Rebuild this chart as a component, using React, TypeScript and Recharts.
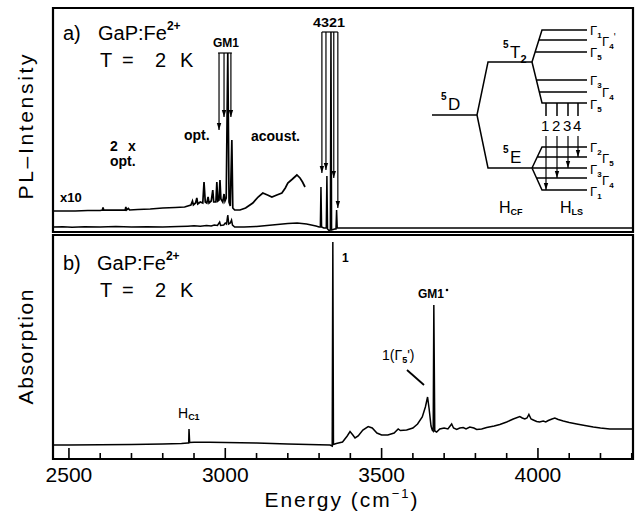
import React from 'react';
import { LineChart, Line, XAxis, YAxis, ReferenceArea, ReferenceLine, Customized } from 'recharts';

const FONT = "'Liberation Sans', Arial, Helvetica, sans-serif";

// ---- Data (energy in cm^-1, intensities in arbitrary units) ----
const plEnergy = [2449, 2480, 2510, 2550, 2600, 2650, 2700, 2750, 2800, 2850, 2880, 2900, 2920, 2940, 2955, 2965, 2975, 2982, 2985, 2995, 3000, 3004, 3008, 3011, 3016, 3020, 3023, 3030, 3060, 3100, 3150, 3200, 3230, 3260, 3290, 3300, 3304, 3306, 3308, 3315, 3323, 3325, 3327, 3332, 3336, 3338, 3340, 3350, 3354, 3356, 3358, 3370, 3450, 3600, 3800, 4000, 4200, 4304];
const plIntensity = [5, 5.2, 4.8, 5.3, 5, 5.4, 5, 5.3, 5, 5.4, 5.8, 6.2, 5.8, 6.5, 6, 7, 6.5, 10, 6.5, 7, 9, 8, 17, 8, 9, 12, 7, 5, 5, 5.5, 7, 8.5, 9, 8, 6, 5, 5, 45, 5, 4, 4, 56, 3, 1.5, 2, 200, 2, 3, 3, 22, 4, 4, 4, 4, 4, 4, 4, 4];

const plX10Energy = [2449, 2480, 2520, 2560, 2600, 2607, 2609, 2611, 2640, 2680, 2682, 2684, 2690, 2694, 2720, 2760, 2800, 2840, 2870, 2880, 2890, 2895, 2898, 2905, 2909, 2912, 2920, 2928, 2932, 2936, 2941, 2945, 2948, 2955, 2960, 2963, 2970, 2973, 2976, 2980, 2983, 2986, 2992, 2996, 2999, 3003, 3008, 3012, 3016, 3021, 3024, 3030, 3047, 3065, 3088, 3105, 3120, 3135, 3149, 3165, 3181, 3192, 3200, 3215, 3229, 3239, 3247, 3255];
const plX10Intensity = [21, 21, 21, 21.5, 21.5, 22, 24.5, 22, 21.8, 22, 25, 22, 23.5, 22, 22.5, 23, 24, 24.5, 25, 26, 27, 31, 27, 29, 34, 28, 30, 29, 50, 30, 29, 35, 29, 31, 42, 30, 30, 50, 31, 32, 52, 33, 30, 38, 31, 34, 179, 30, 26, 92, 24, 22, 22, 24, 29, 35, 39, 37, 35, 37, 39, 44, 49, 53, 57, 54, 50, 45];

const absEnergy = [2449, 2500, 2600, 2700, 2800, 2860, 2880, 2883, 2884, 2886, 2900, 2950, 3000, 3100, 3200, 3300, 3335, 3342, 3344, 3346, 3355, 3375, 3390, 3399, 3408, 3415, 3425, 3440, 3457, 3470, 3485, 3500, 3520, 3540, 3553, 3560, 3580, 3600, 3615, 3630, 3640, 3647, 3652, 3658, 3662, 3665, 3667, 3670, 3676, 3686, 3700, 3712, 3724, 3730, 3740, 3750, 3761, 3770, 3782, 3795, 3804, 3820, 3836, 3860, 3878, 3900, 3921, 3942, 3950, 3958, 3965, 3971, 3978, 3985, 3996, 4005, 4017, 4025, 4033, 4045, 4054, 4065, 4081, 4100, 4124, 4150, 4177, 4200, 4230, 4270, 4304];
const absValue = [14, 14, 14.2, 14.5, 15, 15.5, 16, 16, 30, 16.5, 16.8, 16.8, 16.5, 16, 15, 14.3, 14, 13, 217, 14.5, 15.5, 17, 23, 27.5, 24, 21, 23, 29, 32.5, 31, 26, 24, 24, 26, 30, 28.5, 29, 31, 35, 42, 52, 62, 50, 33, 29, 28, 154, 28, 27, 30, 31, 30, 35, 31, 29.5, 31, 31.5, 30, 32, 31, 29.5, 30, 31.5, 33, 34.5, 37, 40, 42.5, 41, 40, 41, 44.5, 40, 39, 37.5, 37, 38, 37, 38.5, 40, 41, 39.5, 38, 36.5, 35, 33.5, 32, 31, 30, 30, 30];

const xTicks = [2500, 2600, 2700, 2800, 2900, 3000, 3100, 3200, 3300, 3400, 3500, 3600, 3700, 3800, 3900, 4000, 4100, 4200, 4300];
const xMajor = [2500, 3000, 3500, 4000];

const X_DOMAIN = [2449, 4304];
const Y_DOMAIN = [0, 224];

const plData = plEnergy.map((e, i) => ({ e, v: plIntensity[i] }));
const plX10Data = plX10Energy.map((e, i) => ({ e, v: plX10Intensity[i] }));
const absData = absEnergy.map((e, i) => ({ e, v: absValue[i] }));

// annotation arrows (energy, intensity) in the PL panel
const gm1Arrows = [
  { e: 2980, from: 179, to: 102 },
  { e: 2996, from: 179, to: 115 },
  { e: 3018, from: 179, to: 115 },
];
const zplArrows = [
  { e: 3309, from: 200, to: 59 },
  { e: 3322, from: 200, to: 62 },
  { e: 3347, from: 200, to: 54 },
  { e: 3360, from: 200, to: 24 },
];

const Arrow = (p: any) => {
  const { x1, y1, x2, y2 } = p;
  const dx = x2 - x1, dy = y2 - y1;
  const L = Math.hypot(dx, dy) || 1;
  const ux = dx / L, uy = dy / L;
  const hl = 7, hw = 2.2;
  const bx = x2 - ux * hl, by = y2 - uy * hl;
  return (
    <g>
      <line x1={x1} y1={y1} x2={x2} y2={y2} stroke="#000" strokeWidth={1.2} />
      <path d={`M${x2},${y2}L${bx - uy * hw},${by + ux * hw}L${bx + uy * hw},${by - ux * hw}Z`} fill="#000" />
    </g>
  );
};

const BottomTick = (props: any) => {
  const { x, y, payload } = props;
  const v = payload.value;
  const major = xMajor.includes(v);
  return (
    <g>
      <line x1={x} x2={x} y1={y} y2={y - (major ? 11 : 6)} stroke="#000" strokeWidth={1.6} />
      {major && (
        <text x={x} y={y + 23} textAnchor="middle" fontSize={21} fontFamily={FONT} fill="#000">{v}</text>
      )}
    </g>
  );
};

const G = ({ x, y, sub, prime }: { x: number; y: number; sub: string; prime?: boolean }) => (
  <text x={x} y={y} fontSize={13} fontFamily={FONT} fill="#000">
    Γ<tspan fontSize={8} fontWeight="bold" dy={3}>{sub}</tspan>
    {prime && <tspan fontSize={10} dy={-8}>'</tspan>}
  </text>
);

const Overlay = () => (
  <g fontFamily={FONT} fill="#000">
    {/* axis titles */}
    <text x={33} y={127} transform="rotate(-90 33 127)" textAnchor="middle" fontSize={21} textLength={145} lengthAdjust="spacing">PL–Intensity</text>
    <text x={33} y={347} transform="rotate(-90 33 347)" textAnchor="middle" fontSize={21} textLength={115} lengthAdjust="spacing">Absorption</text>
    <text x={342} y={507} textAnchor="middle" fontSize={21} letterSpacing={2}>
      Energy  (cm<tspan fontSize={13} dy={-9}>−1</tspan><tspan dy={9}>)</tspan>
    </text>

    {/* panel a */}
    <text x={63} y={40} fontSize={20}>a)</text>
    <text x={98} y={40} fontSize={20}>GaP:Fe<tspan fontSize={12} fontWeight="bold" dy={-10}>2+</tspan></text>
    <text y={67} fontSize={20}>
      <tspan x={100}>T</tspan><tspan x={122}>=</tspan><tspan x={155}>2</tspan><tspan x={180}>K</tspan>
    </text>
    <text x={226} y={47} fontSize={12} fontWeight="bold" textAnchor="middle">GM1</text>
    <text x={329} y={27} fontSize={13} fontWeight="bold" textAnchor="middle" textLength={32} lengthAdjust="spacingAndGlyphs">4321</text>
    <text x={184} y={140} fontSize={14} fontWeight="bold">opt.</text>
    <text x={251} y={141} fontSize={14} fontWeight="bold">acoust.</text>
    <text y={151} fontSize={14} fontWeight="bold"><tspan x={110}>2</tspan><tspan x={128}>x</tspan></text>
    <text x={110} y={166} fontSize={14} fontWeight="bold">opt.</text>
    <text x={60} y={202} fontSize={13} fontWeight="bold">x10</text>

    {/* energy level diagram */}
    <g stroke="#000" strokeWidth={1.5} fill="none">
      <path d="M432,115 H477 L488,62 H532 M477,115 L488,168 H532" />
      <path d="M532,62 L542,30 H587 M539,40 H587 M535,52 H587" />
      <path d="M532,62 L542,103 H587 M536,80 H587 M539,92 H587" />
      <path d="M532,168 L542,147 H587 M537,157 H587 M532,168 H587 M537,178 H587 M532,168 L542,190 H587" />
      <path d="M546,103 V116 M557,103 V116 M568,103 V116 M578,103 V116" />
    </g>
    <Arrow x1={546} y1={136} x2={546} y2={190} />
    <Arrow x1={557} y1={136} x2={557} y2={178} />
    <Arrow x1={568} y1={136} x2={568} y2={168} />
    <Arrow x1={578} y1={136} x2={578} y2={157} />
    <text y={131} fontSize={15}>
      <tspan x={541}>1</tspan><tspan x={552}>2</tspan><tspan x={563}>3</tspan><tspan x={573}>4</tspan>
    </text>
    <text x={448} y={110} fontSize={17}>D</text>
    <text x={441} y={100} fontSize={10} fontWeight="bold">5</text>
    <text x={510} y={58} fontSize={17}>T<tspan fontSize={11} fontWeight="bold" dy={5}>2</tspan></text>
    <text x={503} y={48} fontSize={10} fontWeight="bold">5</text>
    <text x={510} y={163} fontSize={17}>E</text>
    <text x={503} y={153} fontSize={10} fontWeight="bold">5</text>
    <text x={499} y={213} fontSize={16}>H<tspan fontSize={9} fontWeight="bold" dy={2}>CF</tspan></text>
    <text x={560} y={213} fontSize={16}>H<tspan fontSize={9} fontWeight="bold" dy={2}>LS</tspan></text>
    <G x={590} y={35} sub="1" />
    <G x={602} y={46} sub="4" prime />
    <G x={590} y={57} sub="5" />
    <G x={590} y={85} sub="3" />
    <G x={602} y={97} sub="4" />
    <G x={590} y={109} sub="5" />
    <G x={590} y={152} sub="2" />
    <G x={602} y={163} sub="5" />
    <G x={590} y={174} sub="3" />
    <G x={602} y={185} sub="4" />
    <G x={590} y={196} sub="1" />

    {/* panel b */}
    <text x={63} y={270} fontSize={20}>b)</text>
    <text x={97} y={270} fontSize={20}>GaP:Fe<tspan fontSize={12} fontWeight="bold" dy={-10}>2+</tspan></text>
    <text y={297} fontSize={20}>
      <tspan x={100}>T</tspan><tspan x={122}>=</tspan><tspan x={155}>2</tspan><tspan x={180}>K</tspan>
    </text>
    <text x={178} y={418} fontSize={14}>H<tspan fontSize={9} fontWeight="bold" dy={2}>C1</tspan></text>
    <text x={342} y={262} fontSize={12} fontWeight="bold">1</text>
    <text x={418} y={298} fontSize={12} fontWeight="bold">GM1</text>
    <circle cx={447} cy={290} r={1.3} fill="#000" />
    <text x={382} y={360} fontSize={14}>1(Γ<tspan fontSize={9} fontWeight="bold" dy={3}>5</tspan><tspan dy={-3}>')</tspan></text>
    <line x1={407} y1={370} x2={424} y2={385} stroke="#000" strokeWidth={1.8} />
  </g>
);

export default function App() {
  return (
    <div style={{ position: 'absolute', left: 0, top: 0, width: 636, height: 514, background: '#fff' }}>
      {/* Panel a: photoluminescence */}
      <div style={{ position: 'absolute', left: 0, top: 0 }}>
        <LineChart width={636} height={514} margin={{ top: 8, right: 3, bottom: 282, left: 53 }}>
          <XAxis type="number" dataKey="e" domain={X_DOMAIN} allowDataOverflow hide />
          <YAxis type="number" domain={Y_DOMAIN} allowDataOverflow hide />
          <ReferenceArea x1={X_DOMAIN[0]} x2={X_DOMAIN[1]} y1={Y_DOMAIN[0]} y2={Y_DOMAIN[1]} fill="none" fillOpacity={0} stroke="#000" strokeWidth={2.2} ifOverflow="visible" />
          <Line data={plX10Data} dataKey="v" type="linear" stroke="#000" strokeWidth={1.7} dot={false} isAnimationActive={false} />
          <Line data={plData} dataKey="v" type="linear" stroke="#000" strokeWidth={1.5} dot={false} isAnimationActive={false} />
          <ReferenceLine segment={[{ x: 2977, y: 179 }, { x: 3021, y: 179 }]} stroke="#000" strokeWidth={1.2} />
          {gm1Arrows.map((a, i) => (
            <ReferenceLine key={'g' + i} segment={[{ x: a.e, y: a.from }, { x: a.e, y: a.to }]} stroke="#000" shape={Arrow} />
          ))}
          <ReferenceLine segment={[{ x: 3309, y: 200 }, { x: 3360, y: 200 }]} stroke="#000" strokeWidth={1.2} />
          {zplArrows.map((a, i) => (
            <ReferenceLine key={'z' + i} segment={[{ x: a.e, y: a.from }, { x: a.e, y: a.to }]} stroke="#000" shape={Arrow} />
          ))}
          <Customized component={<Overlay />} />
        </LineChart>
      </div>
      {/* Panel b: absorption */}
      <div style={{ position: 'absolute', left: 0, top: 0 }}>
        <LineChart width={636} height={514} margin={{ top: 235, right: 3, bottom: 0, left: 53 }}>
          <XAxis type="number" dataKey="e" domain={X_DOMAIN} allowDataOverflow ticks={xTicks} interval={0} height={55} axisLine={false} tickLine={false} tickSize={0} tickMargin={0} tick={<BottomTick />} />
          <YAxis type="number" domain={Y_DOMAIN} allowDataOverflow hide />
          <ReferenceArea x1={X_DOMAIN[0]} x2={X_DOMAIN[1]} y1={Y_DOMAIN[0]} y2={Y_DOMAIN[1]} fill="none" fillOpacity={0} stroke="#000" strokeWidth={2.2} ifOverflow="visible" />
          <Line data={absData} dataKey="v" type="linear" stroke="#000" strokeWidth={1.5} dot={false} isAnimationActive={false} />
        </LineChart>
      </div>
    </div>
  );
}
